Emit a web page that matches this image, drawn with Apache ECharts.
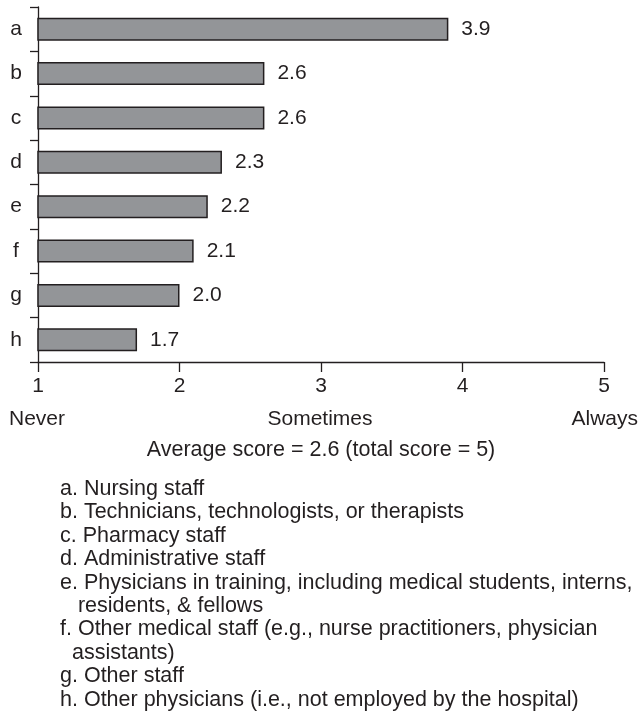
<!DOCTYPE html>
<html>
<head>
<meta charset="utf-8">
<script src="https://cdn.jsdelivr.net/npm/echarts@6/dist/echarts.min.js"></script>
<style>
html,body{margin:0;padding:0;background:#fff;}
#chart{width:640px;height:720px;}
</style>
</head>
<body>
<div id="chart"></div>
<script>
var categories = ['a','b','c','d','e','f','g','h'];
var scores = [3.9, 2.6, 2.6, 2.3, 2.2, 2.1, 2.0, 1.7];
var xTickLabels = ['1','2','3','4','5'];
var scaleLabels = ['Never','Sometimes','Always'];
var subtitle = 'Average score = 2.6 (total score = 5)';
var legendLines = [
  'a. Nursing staff',
  'b. Technicians, technologists, or therapists',
  'c. Pharmacy staff',
  'd. Administrative staff',
  'e. Physicians in training, including medical students, interns,',
  '   residents, & fellows',
  'f. Other medical staff (e.g., nurse practitioners, physician',
  '  assistants)',
  'g. Other staff',
  'h. Other physicians (i.e., not employed by the hospital)'
];

var ink = '#231f20';
var font = 'Liberation Sans';
var chart = echarts.init(document.getElementById('chart'));

function txt(x, y, t, size, align){
  return {type:'text', x:x, y:y, style:{text:t, font:size + 'px "Liberation Sans"', fill:ink, align:align || 'left', verticalAlign:'middle'}};
}
var graphics = [
  txt(9, 419, scaleLabels[0], 21),
  txt(320, 419, scaleLabels[1], 21, 'center'),
  txt(638, 419, scaleLabels[2], 21, 'right'),
  txt(321, 450, subtitle, 21.5, 'center')
];
legendLines.forEach(function(t, i){
  graphics.push(txt(60, 489 + i*23.4, t, 21.5));
});

chart.setOption({
  animation:false,
  textStyle:{fontFamily:font},
  grid:{left:38, right:36, top:7, bottom:358},
  xAxis:{
    type:'value', min:1, max:5, interval:1,
    splitLine:{show:false},
    axisLine:{show:true, lineStyle:{color:ink, width:1.3}},
    axisTick:{show:true, length:10, lineStyle:{color:ink, width:1.3}},
    axisLabel:{color:ink, fontSize:21, margin:14, fontFamily:font,
      formatter:function(v){ return xTickLabels[Math.round(v)-1]; }}
  },
  yAxis:{
    type:'category', data:categories, inverse:true,
    axisLine:{show:true, lineStyle:{color:ink, width:1.3}},
    axisTick:{show:true, length:8, lineStyle:{color:ink, width:1.3}},
    axisLabel:{color:ink, fontSize:21, margin:22, fontFamily:font, align:'center'}
  },
  series:[{
    type:'bar', data:scores, barWidth:23,
    itemStyle:{color:'#939598', borderColor:ink, borderWidth:1.5},
    label:{show:true, position:'right', distance:13, color:ink, fontSize:21, fontFamily:font,
      formatter:function(p){ return p.value.toFixed(1); }}
  }],
  graphic:graphics
});
</script>
</body>
</html>
